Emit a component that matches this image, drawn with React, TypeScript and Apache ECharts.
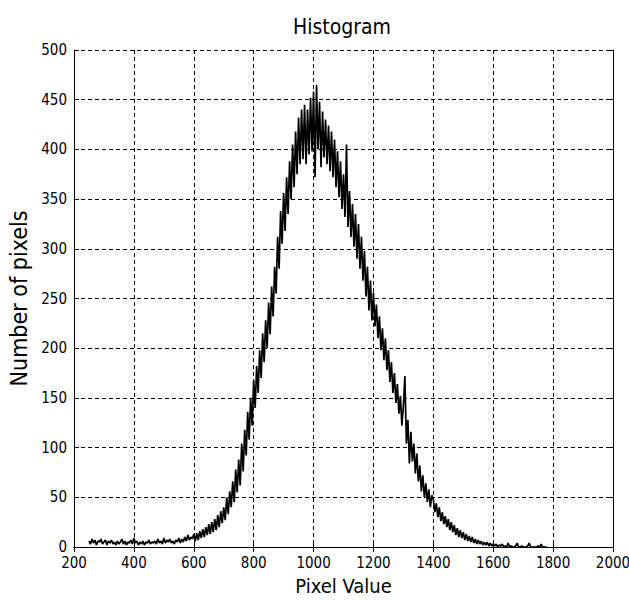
import React, { useEffect, useRef } from "react";
import * as echarts from "echarts";

// Histogram bin counts, one value every 5 pixel-value units
const STEP = 5;

const tailLeftStart = 250;
const tailLeft = [
  6, 3, 8, 4, 7, 2, 6, 5, 8, 3, 5, 7, 2, 6, 4, 7, 3, 5, 2, 6,
  3, 5, 8, 3, 6, 2, 5, 4, 7, 3, 9, 4, 6, 2, 5, 3, 6, 2, 5, 4,
  7, 3, 5, 4, 6, 3, 8, 4, 6, 3, 9, 4, 7, 5, 8, 4, 6, 3, 7, 5,
  9, 4, 8, 5, 10, 6, 12, 7, 10, 8,
];

const risingStart = 600;
const rising = [
  13, 6, 14, 7, 16, 9, 18, 10, 20, 12, 23, 13, 25, 15, 28, 17, 32, 20, 36, 24,
  40, 27, 50, 33, 56, 40, 66, 45, 78, 55, 88, 62, 104, 76, 118, 92, 136, 108, 150, 122,
];

const upperRiseStart = 800;
const upperRise = [
  168, 140, 182, 155, 198, 170, 215, 186, 228, 200, 246, 214, 262, 232, 282, 255, 312, 280, 338, 305,
  356, 318, 372, 335, 388, 350, 405, 362, 418, 375, 432, 385, 440, 390, 445, 385, 440, 395, 452, 398,
];

const peakFallStart = 1000;
const peakFall = [
  458, 372, 465, 400, 448, 382, 438, 392, 430, 385, 424, 378, 418, 372, 410, 362, 398, 352, 388, 340,
  375, 332, 405, 322, 358, 312, 345, 302, 335, 290, 325, 280, 312, 268, 298, 252, 282, 238, 268, 228,
];

const lowerFallStart = 1200;
const lowerFall = [
  256, 222, 244, 210, 232, 198, 220, 188, 210, 178, 198, 166, 186, 155, 175, 145, 164, 134, 152, 122,
  142, 172, 104, 128, 84, 116, 86, 104, 74, 94, 66, 82, 56, 72, 50, 64, 45, 58, 40, 52,
];

const tailRightStart = 1400;
const tailRight = [
  48, 35, 44, 30, 40, 26, 35, 23, 31, 20, 28, 17, 25, 15, 22, 12, 19, 10, 17, 9,
  15, 7, 13, 6, 11, 5, 10, 4, 8, 3, 7, 3, 6, 2, 5, 2, 5, 1, 4, 1,
];

const farTailStart = 1600;
const farTail = [
  3, 1, 3, 0, 2, 1, 3, 0, 1, 0, 4, 0, 1, 0, 0, 1, 4, 0, 0, 1,
  0, 0, 0, 1, 4, 0, 0, 0, 0, 0, 1, 0, 3, 0, 0, 0, 0,
];

const xTickLabels = [200, 400, 600, 800, 1000, 1200, 1400, 1600, 1800, 2000];
const yTickLabels = [0, 50, 100, 150, 200, 250, 300, 350, 400, 450, 500];

const TITLE = "Histogram";
const X_NAME = "Pixel Value";
const Y_NAME = "Number of pixels";

const FONT = "'DejaVu Sans Condensed', 'Liberation Sans', sans-serif";

function buildPoints(): [number, number][] {
  const segs: [number, number[]][] = [
    [tailLeftStart, tailLeft],
    [risingStart, rising],
    [upperRiseStart, upperRise],
    [peakFallStart, peakFall],
    [lowerFallStart, lowerFall],
    [tailRightStart, tailRight],
    [farTailStart, farTail],
  ];
  const pts: [number, number][] = [];
  segs.forEach(([start, vals]) => {
    vals.forEach((v, i) => pts.push([start + i * STEP, v]));
  });
  return pts;
}

export default function App() {
  const ref = useRef<HTMLDivElement>(null);

  useEffect(() => {
    if (!ref.current) return;
    const chart = echarts.init(ref.current, null, { renderer: "svg" });
    const xMin = xTickLabels[0];
    const xMax = xTickLabels[xTickLabels.length - 1];
    const xInt = xTickLabels[1] - xTickLabels[0];
    const yMin = yTickLabels[0];
    const yMax = yTickLabels[yTickLabels.length - 1];
    const yInt = yTickLabels[1] - yTickLabels[0];

    const gridLine = { show: true, lineStyle: { color: "#000", width: 1, type: [4, 3] as any } };
    const axisLine = { show: true, lineStyle: { color: "#000", width: 1 } };
    const tick = { show: true, inside: true, length: 5, lineStyle: { color: "#000", width: 1 } };
    const label = {
      color: "#000",
      fontFamily: FONT,
      fontSize: 15,
      lineHeight: 13,
      formatter: (v: number) => String(v),
    };

    chart.setOption({
      animation: false,
      backgroundColor: "#fff",
      title: {
        text: TITLE,
        left: 337,
        textAlign: "center",
        top: 11,
        textStyle: { color: "#000", fontFamily: FONT, fontSize: 21, fontWeight: "normal" },
      },
      grid: { left: 74, right: 16, top: 50, bottom: 53, containLabel: false, outerBoundsMode: "none" },
      xAxis: [
        {
          type: "value",
          min: xMin,
          max: xMax,
          interval: xInt,
          name: X_NAME,
          nameLocation: "middle",
          nameGap: 29,
          nameTextStyle: { color: "#000", fontFamily: FONT, fontSize: 20 },
          axisLine,
          axisTick: tick,
          axisLabel: { ...label, margin: 9 },
          splitLine: gridLine,
        },
        {
          type: "value",
          position: "top",
          min: xMin,
          max: xMax,
          interval: xInt,
          axisLine,
          axisTick: tick,
          axisLabel: { show: false },
          splitLine: { show: false },
        },
      ],
      yAxis: [
        {
          type: "value",
          min: yMin,
          max: yMax,
          interval: yInt,
          name: Y_NAME,
          nameLocation: "middle",
          nameGap: 43,
          nameTextStyle: { color: "#000", fontFamily: FONT, fontSize: 23 },
          axisLine,
          axisTick: tick,
          axisLabel: { ...label, margin: 7 },
          splitLine: gridLine,
        },
        {
          type: "value",
          position: "right",
          min: yMin,
          max: yMax,
          interval: yInt,
          axisLine,
          axisTick: tick,
          axisLabel: { show: false },
          splitLine: { show: false },
        },
      ],
      series: [
        {
          type: "line",
          data: buildPoints(),
          showSymbol: false,
          symbol: "none",
          lineStyle: { color: "#000", width: 1.7 },
          xAxisIndex: 0,
          yAxisIndex: 0,
        },
      ],
    });
    return () => chart.dispose();
  }, []);

  return (
    <div
      ref={ref}
      style={{ position: "absolute", left: 0, top: 0, width: 629, height: 600, background: "#fff" }}
    />
  );
}
